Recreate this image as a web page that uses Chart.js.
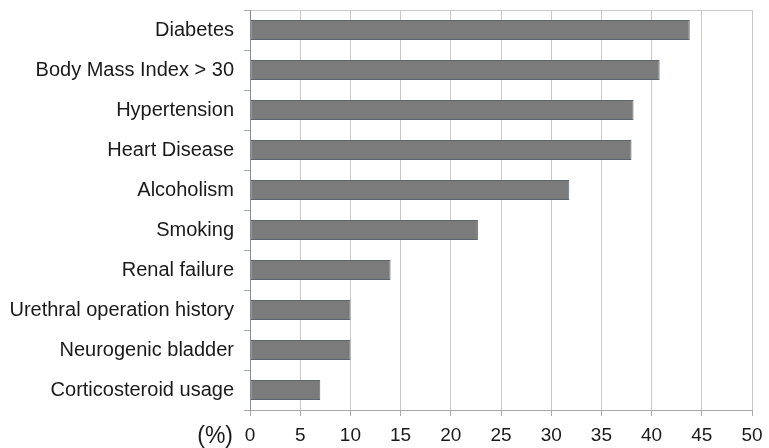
<!DOCTYPE html>
<html>
<head>
<meta charset="utf-8">
<script src="https://cdn.jsdelivr.net/npm/chart.js@4/dist/chart.umd.min.js"></script>
<style>
  html, body { margin: 0; padding: 0; background: #fff; }
  #wrap { width: 769px; height: 448px; }
</style>
</head>
<body>
<div id="wrap"><canvas id="riskChart"></canvas></div>
<script>
  // risk factors, % of patients
  const categories = [
    "Diabetes",
    "Body Mass Index > 30",
    "Hypertension",
    "Heart Disease",
    "Alcoholism",
    "Smoking",
    "Renal failure",
    "Urethral operation history",
    "Neurogenic bladder",
    "Corticosteroid usage"
  ];
  const percentValues = [43.8, 40.8, 38.2, 38.0, 31.8, 22.7, 14.0, 10.0, 10.0, 7.0];
  const xTicks = [0, 5, 10, 15, 20, 25, 30, 35, 40, 45, 50];

  const FONT = "'Liberation Sans', Arial, sans-serif";

  // "(%)" sits left of the 0 tick
  const unitLabel = {
    id: "unitLabel",
    afterDraw(chart){
      const c = chart.ctx;
      const x0 = chart.scales.x.getPixelForValue(xTicks[0]);
      c.save();
      c.font = "23px " + FONT;
      c.fillStyle = "#1a1a1a";
      c.textAlign = "right";
      c.textBaseline = "middle";
      c.fillText("(%)", x0 - 17, 437);
      c.restore();
    }
  };

  new Chart(document.getElementById("riskChart"), {
    type: "bar",
    data: {
      labels: categories,
      datasets: [{
        data: percentValues,
        backgroundColor: "#7b7b7b",
        borderColor: "#5d6670",
        borderWidth: 1,
        borderSkipped: false,
        categoryPercentage: 1,
        barPercentage: 0.5
      }]
    },
    options: {
      indexAxis: "y",
      responsive: true,
      maintainAspectRatio: false,
      animation: false,
      layout: { padding: { left: 0, right: 17, top: 10, bottom: 0 } },
      plugins: { legend: { display: false }, tooltip: { enabled: false } },
      scales: {
        x: {
          min: 0, max: 50,
          afterBuildTicks: s => { s.ticks = xTicks.map(v => ({ value: v })); },
          afterFit: s => { s.height = 38; s.paddingLeft = 0; s.paddingRight = 0; },
          border: { color: "#a8a8a8", width: 1 },
          grid: { color: "#c9c9c9", lineWidth: 1, tickLength: 6, tickColor: "#a8a8a8" },
          ticks: { color: "#1a1a1a", font: { family: FONT, size: 19 }, padding: 8, maxRotation: 0 }
        },
        y: {
          afterFit: s => { s.width = 250; s.paddingTop = 0; s.paddingBottom = 0; },
          border: { color: "#8a8f96", width: 1 },
          grid: {
            offset: true,
            color: ctx => ctx.index === 0 ? "#c9c9c9" : "rgba(0,0,0,0)",
            tickColor: "#a8a8a8",
            tickLength: 6
          },
          ticks: { color: "#1a1a1a", font: { family: FONT, size: 20 }, padding: 10 }
        }
      }
    },
    plugins: [unitLabel]
  });
</script>
</body>
</html>
